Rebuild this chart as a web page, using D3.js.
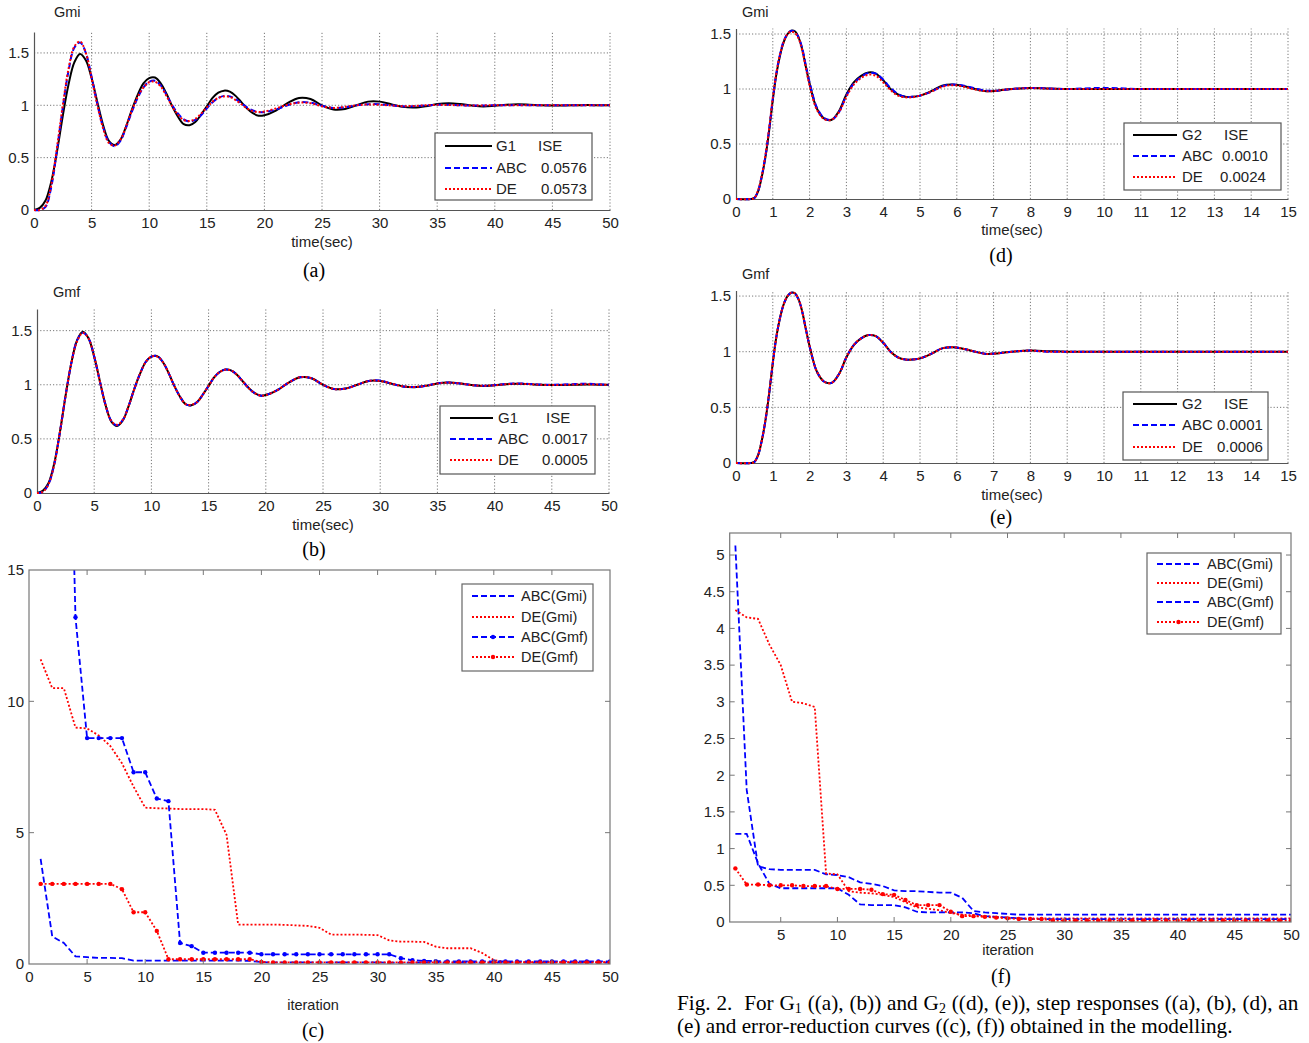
<!DOCTYPE html>
<html><head><meta charset="utf-8">
<script src="https://cdn.jsdelivr.net/npm/d3@7"></script>
<style>
body{margin:0;background:#fff}
svg{display:block}
</style>
</head><body>
<svg id="chart" width="1309" height="1043"></svg>
<script>
// ---------------- DATA ----------------
// G1 step responses (time grid)
const T1 = [0,0.5,1,1.5,2,2.5,3,3.5,4,4.5,5,5.5,6,6.5,7,7.5,8,8.5,9,9.5,10,10.5,11,11.5,12,12.5,13,13.5,14,14.5,15,15.5,16,16.5,17,17.5,18,18.5,19,19.5,20,21,22,23,24,25,26,27,28,29,30,31,32,33,34,35,36,37,38,39,40,41,42,43,44,45,46,47,48,49,50];
const G1 = [0,0.02,0.09,0.27,0.56,0.9,1.2,1.41,1.49,1.43,1.26,1.03,0.81,0.66,0.62,0.67,0.8,0.96,1.1,1.21,1.26,1.265,1.21,1.11,0.99,0.89,0.82,0.81,0.84,0.91,0.99,1.07,1.12,1.14,1.13,1.09,1.03,0.97,0.925,0.9,0.905,
  0.95,1.02,1.07,1.06,1.0,0.96,0.965,1.0,1.035,1.035,1.01,0.985,0.978,0.99,1.012,1.02,1.012,0.997,0.988,0.995,1.005,1.01,1.006,1.0,0.998,0.998,1.0,1.002,1.001,1.0];
const ABC_a = [0,0,0.03,0.22,0.58,0.98,1.33,1.55,1.6,1.5,1.27,1.01,0.79,0.65,0.61,0.66,0.79,0.94,1.07,1.17,1.225,1.235,1.19,1.1,1.0,0.92,0.865,0.845,0.86,0.905,0.97,1.03,1.07,1.09,1.085,1.06,1.02,0.98,0.95,0.935,0.935,
  0.96,1.0,1.03,1.025,0.995,0.975,0.98,1.0,1.01,1.01,1.0,0.99,0.99,0.998,1.005,1.005,1.0,0.998,0.998,1.0,1.0,1.002,1.0,1.0,1.0,1.0,1.0,1.0,1.0,1.0];
const DE_a = [0,0,0.04,0.24,0.6,1.0,1.35,1.56,1.61,1.5,1.26,1.0,0.78,0.64,0.615,0.67,0.8,0.95,1.08,1.17,1.22,1.225,1.18,1.09,0.99,0.91,0.86,0.85,0.87,0.92,0.98,1.035,1.07,1.085,1.08,1.05,1.01,0.97,0.945,0.935,0.94,
  0.97,1.005,1.025,1.02,0.99,0.975,0.985,1.0,1.008,1.005,0.998,0.992,0.994,1.0,1.004,1.003,1.0,0.998,0.999,1.0,1.0,1.0,1.0,1.0,1.0,1.0,1.0,1.0,1.0,1.0];
const ABC_b = [0,0.01,0.08,0.26,0.56,0.9,1.2,1.41,1.48,1.43,1.26,1.03,0.81,0.665,0.625,0.675,0.8,0.96,1.1,1.21,1.26,1.265,1.21,1.11,0.99,0.89,0.82,0.81,0.84,0.91,0.99,1.07,1.12,1.14,1.13,1.09,1.03,0.97,0.925,0.9,0.905,
  0.95,1.02,1.07,1.06,1.0,0.96,0.965,1.0,1.035,1.04,1.01,0.985,0.98,0.99,1.015,1.02,1.012,0.997,0.99,0.997,1.007,1.012,1.008,1.002,1.0,1.003,1.006,1.01,1.004,1.0];
const DE_b = [0,0.01,0.08,0.26,0.56,0.9,1.2,1.4,1.48,1.43,1.26,1.03,0.81,0.665,0.63,0.675,0.8,0.96,1.1,1.21,1.26,1.26,1.21,1.11,0.99,0.89,0.82,0.815,0.84,0.91,0.99,1.07,1.12,1.14,1.13,1.09,1.03,0.97,0.925,0.9,0.905,
  0.95,1.02,1.07,1.06,1.0,0.96,0.965,1.0,1.035,1.035,1.01,0.985,0.98,0.99,1.012,1.02,1.012,0.997,0.99,0.995,1.005,1.01,1.006,1.0,0.998,1.0,1.002,1.004,1.002,1.0];

// G2 step responses
const T2 = [0,0.4,0.5,0.6,0.7,0.8,0.9,1.0,1.1,1.2,1.3,1.4,1.5,1.6,1.7,1.8,1.9,2.0,2.2,2.4,2.6,2.8,3.0,3.2,3.4,3.6,3.8,4.0,4.2,4.4,4.6,4.8,5.0,5.3,5.6,5.9,6.2,6.5,6.8,7.1,7.5,8.0,8.5,9,10,11,12,13,14,15];
const G2 = [0,0,0.01,0.07,0.2,0.38,0.62,0.9,1.14,1.31,1.43,1.5,1.53,1.525,1.47,1.36,1.2,1.05,0.82,0.73,0.72,0.8,0.95,1.06,1.12,1.15,1.14,1.08,1.0,0.95,0.93,0.93,0.94,0.98,1.03,1.04,1.025,1.0,0.98,0.985,1.0,1.01,1.005,1.0,1.0,1.0,1.0,1.0,1.0,1.0];
const ABC_d = [0,0,0.01,0.07,0.21,0.39,0.63,0.91,1.15,1.32,1.44,1.5,1.53,1.52,1.47,1.37,1.21,1.06,0.83,0.735,0.72,0.79,0.94,1.05,1.11,1.145,1.14,1.085,1.01,0.955,0.93,0.93,0.94,0.975,1.025,1.04,1.03,1.005,0.985,0.985,1.0,1.01,1.005,1.0,1.01,1.0,1.0,1.0,1.0,1.0];
const DE_d = [0,0,0.01,0.08,0.21,0.4,0.64,0.92,1.15,1.32,1.43,1.5,1.52,1.51,1.46,1.35,1.19,1.03,0.81,0.725,0.72,0.79,0.93,1.04,1.1,1.13,1.12,1.06,0.99,0.94,0.925,0.925,0.94,0.975,1.02,1.035,1.02,0.995,0.98,0.985,1.0,1.008,1.003,1.0,1.0,1.0,1.0,1.0,1.0,1.0];
const ABC_e = [0,0,0.01,0.07,0.2,0.38,0.62,0.9,1.14,1.31,1.43,1.5,1.53,1.52,1.47,1.36,1.2,1.05,0.82,0.73,0.72,0.8,0.95,1.06,1.12,1.15,1.14,1.08,1.0,0.95,0.93,0.93,0.94,0.98,1.03,1.04,1.025,1.0,0.98,0.985,1.0,1.01,1.0,1.0,1.0,1.0,1.0,1.0,1.0,1.0];
const DE_e = [0,0,0.01,0.07,0.2,0.39,0.63,0.9,1.14,1.31,1.43,1.5,1.53,1.525,1.47,1.36,1.2,1.05,0.82,0.73,0.72,0.8,0.95,1.06,1.12,1.15,1.14,1.08,1.0,0.95,0.93,0.93,0.94,0.98,1.03,1.04,1.025,1.0,0.98,0.985,1.0,1.01,1.0,1.0,1.0,1.0,1.0,1.0,1.0,1.0];

// legend texts
const LEG_A = [["G1","ISE"],["ABC","0.0576"],["DE","0.0573"]];
const LEG_B = [["G1","ISE"],["ABC","0.0017"],["DE","0.0005"]];
const LEG_D = [["G2","ISE"],["ABC","0.0010"],["DE","0.0024"]];
const LEG_E = [["G2","ISE"],["ABC","0.0001"],["DE","0.0006"]];

// error-reduction curves, iterations 1..50
const ITER = d3.range(1, 51);
const ABC_Gmi_c = [4.0,1.05,0.8,0.29,0.26,0.23,0.23,0.22,0.13,0.13,0.13,0.13,0.13,0.13,0.13,0.13,0.13,0.13,0.12,0.07,0.06,0.06,0.06,0.06,0.06,0.06,0.06,0.06,0.06,0.06,0.05,0.05,0.05,0.05,0.05,0.05,0.05,0.05,0.05,0.05,0.05,0.05,0.05,0.05,0.05,0.05,0.05,0.05,0.05,0.05];
const DE_Gmi_c = [11.6,10.5,10.5,9.0,8.97,8.7,8.3,7.64,6.75,5.95,5.93,5.92,5.9,5.9,5.9,5.87,4.92,1.5,1.5,1.5,1.5,1.49,1.47,1.45,1.38,1.12,1.12,1.12,1.11,1.1,0.9,0.85,0.85,0.84,0.66,0.6,0.6,0.6,0.42,0.15,0.08,0.07,0.07,0.07,0.07,0.07,0.07,0.07,0.07,0.07];
const ABC_Gmf_c = [40,35,31,13.2,8.6,8.6,8.6,8.6,7.3,7.3,6.3,6.2,0.8,0.68,0.43,0.43,0.43,0.43,0.43,0.37,0.37,0.37,0.37,0.37,0.37,0.37,0.37,0.37,0.37,0.37,0.37,0.22,0.14,0.12,0.11,0.1,0.1,0.1,0.1,0.1,0.1,0.1,0.1,0.1,0.1,0.1,0.1,0.1,0.1,0.1];
const DE_Gmf_c = [3.05,3.05,3.05,3.05,3.05,3.05,3.05,2.85,1.97,1.97,1.26,0.18,0.18,0.18,0.18,0.18,0.18,0.18,0.18,0.08,0.06,0.06,0.06,0.06,0.06,0.06,0.06,0.06,0.06,0.06,0.06,0.06,0.06,0.06,0.06,0.06,0.06,0.06,0.06,0.06,0.06,0.06,0.06,0.06,0.06,0.06,0.06,0.06,0.06,0.06];

const ABC_Gmi_f = [5.13,1.8,0.76,0.72,0.71,0.71,0.71,0.71,0.65,0.64,0.61,0.54,0.52,0.49,0.43,0.42,0.42,0.41,0.4,0.4,0.33,0.15,0.13,0.12,0.11,0.1,0.1,0.1,0.1,0.1,0.1,0.1,0.1,0.1,0.1,0.1,0.1,0.1,0.1,0.1,0.1,0.1,0.1,0.1,0.1,0.1,0.1,0.1,0.1,0.1];
const DE_Gmi_f = [4.25,4.15,4.13,3.78,3.5,3.0,2.98,2.93,0.66,0.65,0.42,0.4,0.39,0.37,0.34,0.27,0.2,0.18,0.16,0.12,0.1,0.09,0.08,0.07,0.06,0.05,0.05,0.05,0.05,0.05,0.05,0.05,0.05,0.05,0.05,0.05,0.05,0.05,0.05,0.05,0.05,0.05,0.05,0.05,0.05,0.05,0.05,0.05,0.05,0.05];
const ABC_Gmf_f = [1.2,1.2,0.8,0.52,0.46,0.46,0.46,0.46,0.46,0.46,0.37,0.24,0.23,0.23,0.23,0.2,0.14,0.13,0.13,0.13,0.13,0.12,0.08,0.07,0.06,0.05,0.04,0.04,0.04,0.04,0.04,0.04,0.04,0.04,0.04,0.04,0.04,0.04,0.04,0.04,0.04,0.04,0.04,0.04,0.04,0.04,0.04,0.04,0.04,0.04];
const DE_Gmf_f = [0.73,0.51,0.51,0.5,0.5,0.5,0.49,0.49,0.49,0.45,0.45,0.45,0.44,0.38,0.37,0.3,0.23,0.23,0.23,0.14,0.08,0.08,0.07,0.06,0.05,0.04,0.04,0.04,0.02,0.02,0.02,0.02,0.02,0.02,0.02,0.02,0.02,0.02,0.02,0.02,0.02,0.02,0.02,0.02,0.02,0.02,0.02,0.02,0.02,0.02];
const ITER_LEGEND = ["ABC(Gmi)","DE(Gmi)","ABC(Gmf)","DE(Gmf)"];

const TICKS_50 = [0,5,10,15,20,25,30,35,40,45,50];
const TICKS_15 = [0,1,2,3,4,5,6,7,8,9,10,11,12,13,14,15];
const TICKS_Y = [0,0.5,1,1.5];

// ---------------- DRAWING ----------------
const svg = d3.select("#chart");
const SANS = '"Liberation Sans", Arial, Helvetica, sans-serif';
const SERIF = '"Liberation Serif", "Times New Roman", Times, serif';
const STY = {
  G:   {stroke:"#000000", dash:null,  width:2},
  ABC: {stroke:"#0000ff", dash:"6,3", width:2},
  DE:  {stroke:"#ff0000", dash:"2,2", width:2}
};
const fmt = d3.format("~g");

function txt(x, y, s, opt = {}) {
  return svg.append("text").attr("x", x).attr("y", y).text(s)
    .attr("font-family", opt.family || SANS).attr("font-size", opt.size || 15)
    .attr("fill", opt.fill || "#222").attr("text-anchor", opt.anchor || "start");
}

function styleAxis(a) {
  a.select(".domain").attr("stroke", "#555").attr("stroke-width", 1.2);
  a.selectAll(".tick line").remove();
  a.selectAll("text").attr("font-family", SANS).attr("font-size", 15).attr("fill", "#222");
}

function stepPanel(p) {
  const x = d3.scaleLinear().domain([0, p.xmax]).range([p.L, p.R]);
  const y = d3.scaleLinear().domain([0, p.ymax]).range([p.B, p.T]);
  const g = svg.append("g");
  const cid = "clip_" + p.id;
  svg.append("clipPath").attr("id", cid).append("rect")
    .attr("x", p.L).attr("y", p.T - 2).attr("width", p.R - p.L + 2).attr("height", p.B - p.T + 4);
  g.append("g").selectAll("line").data(p.xticks.slice(1)).join("line")
    .attr("x1", d => x(d)).attr("x2", d => x(d)).attr("y1", p.B).attr("y2", p.T)
    .attr("stroke", "#777").attr("stroke-width", 1).attr("stroke-dasharray", "1.2,2");
  g.append("g").selectAll("line").data(p.yticks.slice(1)).join("line")
    .attr("x1", p.L).attr("x2", p.R).attr("y1", d => y(d)).attr("y2", d => y(d))
    .attr("stroke", "#777").attr("stroke-width", 1).attr("stroke-dasharray", "1.2,2");
  const ax = g.append("g").attr("transform", `translate(0,${p.B})`)
    .call(d3.axisBottom(x).tickValues(p.xticks).tickSizeInner(0).tickSizeOuter(0).tickPadding(7).tickFormat(fmt));
  const ay = g.append("g").attr("transform", `translate(${p.L},0)`)
    .call(d3.axisLeft(y).tickValues(p.yticks).tickSizeInner(0).tickSizeOuter(0).tickPadding(5).tickFormat(fmt));
  styleAxis(ax); styleAxis(ay);

  const line = d3.line().x(d => x(d[0])).y(d => y(d[1])).curve(d3.curveCatmullRom.alpha(0.5));
  const plot = g.append("g").attr("clip-path", `url(#${cid})`);
  p.series.forEach(s => {
    const st = STY[s.key];
    plot.append("path").datum(p.t.map((t, i) => [t, s.values[i]]))
      .attr("d", line).attr("fill", "none").attr("stroke", st.stroke)
      .attr("stroke-width", st.width).attr("stroke-dasharray", st.dash)
      .attr("stroke-linejoin", "round");
  });

  // legend
  const L = p.legend;
  g.append("rect").attr("x", L.x).attr("y", L.y).attr("width", L.w).attr("height", L.h)
    .attr("fill", "#fff").attr("stroke", "#555").attr("stroke-width", 1.2);
  ["G", "ABC", "DE"].forEach((k, i) => {
    const st = STY[k];
    const yy = L.rows[i];
    g.append("line").attr("x1", L.s1).attr("x2", L.s2).attr("y1", yy).attr("y2", yy)
      .attr("stroke", st.stroke).attr("stroke-width", st.width).attr("stroke-dasharray", st.dash);
    txt(L.t1, yy + 5, p.legendText[i][0]);
    txt(L.t2[i], yy + 5, p.legendText[i][1]);
  });

  txt(p.titleX, p.titleY, p.title, {size: 14.5});
  txt((p.L + p.R) / 2, p.xlabY, "time(sec)", {anchor: "middle", size: 15});
  txt(p.capX, p.capY, p.cap, {family: SERIF, size: 20, anchor: "middle", fill: "#000"});
}

function iterPanel(p) {
  const x = d3.scaleLinear().domain([p.xmin, 50]).range([p.L, p.R]);
  const y = d3.scaleLinear().domain([0, p.ymax]).range([p.B, p.T]);
  const g = svg.append("g");
  const cid = "clip_" + p.id;
  svg.append("clipPath").attr("id", cid).append("rect")
    .attr("x", p.L).attr("y", p.T).attr("width", p.R - p.L).attr("height", p.B - p.T);
  const plot = g.append("g").attr("clip-path", `url(#${cid})`);
  const line = d3.line().x(d => x(d[0])).y(d => y(d[1]));
  p.series.forEach(s => {
    const st = STY[s.key];
    const pts = ITER.map((it, i) => [it, s.values[i]]);
    plot.append("path").datum(pts).attr("d", line).attr("fill", "none")
      .attr("stroke", st.stroke).attr("stroke-width", 1.8).attr("stroke-dasharray", s.key === "ABC" ? "6,3" : "2,2");
    if (s.marker) {
      plot.append("g").selectAll("circle").data(pts).join("circle")
        .attr("cx", d => x(d[0])).attr("cy", d => y(d[1])).attr("r", 2.2).attr("fill", st.stroke);
    }
  });
  // box
  g.append("rect").attr("x", p.L).attr("y", p.T).attr("width", p.R - p.L).attr("height", p.B - p.T)
    .attr("fill", "none").attr("stroke", "#777").attr("stroke-width", 1.2);
  const inX = p.xticks.filter(v => x(v) > p.L + 1 && x(v) < p.R - 1);
  const inY = p.yticks.filter(v => y(v) < p.B - 1 && y(v) > p.T + 1);
  const tk = g.append("g").attr("stroke", "#777").attr("stroke-width", 1);
  inX.forEach(v => {
    tk.append("line").attr("x1", x(v)).attr("x2", x(v)).attr("y1", p.B).attr("y2", p.B - 5);
    tk.append("line").attr("x1", x(v)).attr("x2", x(v)).attr("y1", p.T).attr("y2", p.T + 5);
  });
  inY.forEach(v => {
    tk.append("line").attr("x1", p.L).attr("x2", p.L + 5).attr("y1", y(v)).attr("y2", y(v));
    tk.append("line").attr("x1", p.R).attr("x2", p.R - 5).attr("y1", y(v)).attr("y2", y(v));
  });
  const ax = g.append("g").attr("transform", `translate(0,${p.B})`)
    .call(d3.axisBottom(x).tickValues(p.xticks).tickSizeInner(0).tickSizeOuter(0).tickPadding(7).tickFormat(fmt));
  const ay = g.append("g").attr("transform", `translate(${p.L},0)`)
    .call(d3.axisLeft(y).tickValues(p.yticks).tickSizeInner(0).tickSizeOuter(0).tickPadding(5).tickFormat(fmt));
  [ax, ay].forEach(a => { a.select(".domain").remove(); a.selectAll("text").attr("font-family", SANS).attr("font-size", 15).attr("fill", "#222"); });

  // legend
  const L = p.legend;
  g.append("rect").attr("x", L.x).attr("y", L.y).attr("width", L.w).attr("height", L.h)
    .attr("fill", "#fff").attr("stroke", "#666").attr("stroke-width", 1.2);
  p.series.forEach((s, i) => {
    const st = STY[s.key];
    const yy = L.rows[i];
    g.append("line").attr("x1", L.s1).attr("x2", L.s2).attr("y1", yy).attr("y2", yy)
      .attr("stroke", st.stroke).attr("stroke-width", 1.8).attr("stroke-dasharray", s.key === "ABC" ? "6,3" : "2,2");
    if (s.marker) {
      g.append("circle").attr("cx", (L.s1 + L.s2) / 2).attr("cy", yy).attr("r", 2.2).attr("fill", st.stroke);
    }
    txt(L.t, yy + 5, ITER_LEGEND[i], {size: 14.5});
  });
  txt(p.xlabX, p.xlabY, "iteration", {anchor: "middle", size: 14.5});
  txt(p.capX, p.capY, p.cap, {family: SERIF, size: 20, anchor: "middle", fill: "#000"});
}

// (a)
stepPanel({id: "a", L: 34, R: 610, B: 210, T: 32, xmax: 50, ymax: 1.7, xticks: TICKS_50, yticks: TICKS_Y, t: T1,
  series: [{key: "G", values: G1}, {key: "ABC", values: ABC_a}, {key: "DE", values: DE_a}],
  legend: {x: 435, y: 133, w: 157, h: 67, rows: [146, 168, 189], s1: 445, s2: 492, t1: 496, t2: [538, 541, 541]},
  legendText: LEG_A, title: "Gmi", titleX: 54, titleY: 17, xlabY: 247, cap: "(a)", capX: 314, capY: 277});
// (b)
stepPanel({id: "b", L: 37, R: 609, B: 493, T: 309, xmax: 50, ymax: 1.7, xticks: TICKS_50, yticks: TICKS_Y, t: T1,
  series: [{key: "G", values: G1}, {key: "ABC", values: ABC_b}, {key: "DE", values: DE_b}],
  legend: {x: 440, y: 406, w: 155, h: 68, rows: [418, 439, 460], s1: 450, s2: 493, t1: 498, t2: [546, 542, 542]},
  legendText: LEG_B, title: "Gmf", titleX: 53, titleY: 297, xlabY: 530, cap: "(b)", capX: 314, capY: 556});
// (d)
stepPanel({id: "d", L: 736, R: 1288, B: 199, T: 28.5, xmax: 15, ymax: 1.55, xticks: TICKS_15, yticks: TICKS_Y, t: T2,
  series: [{key: "G", values: G2}, {key: "ABC", values: ABC_d}, {key: "DE", values: DE_d}],
  legend: {x: 1124, y: 123, w: 157, h: 67, rows: [135, 156, 177], s1: 1133, s2: 1177, t1: 1182, t2: [1224, 1222, 1220]},
  legendText: LEG_D, title: "Gmi", titleX: 742, titleY: 17, xlabY: 235, cap: "(d)", capX: 1001, capY: 262});
// (e)
stepPanel({id: "e", L: 736, R: 1288, B: 463, T: 290.5, xmax: 15, ymax: 1.55, xticks: TICKS_15, yticks: TICKS_Y, t: T2,
  series: [{key: "G", values: G2}, {key: "ABC", values: ABC_e}, {key: "DE", values: DE_e}],
  legend: {x: 1123, y: 392, w: 145, h: 68, rows: [404, 425, 447], s1: 1133, s2: 1177, t1: 1182, t2: [1224, 1217, 1217]},
  legendText: LEG_E, title: "Gmf", titleX: 742, titleY: 279, xlabY: 500, cap: "(e)", capX: 1001, capY: 524});
// (c)
iterPanel({id: "c", L: 29, R: 610, B: 964, T: 570, xmin: 0, ymax: 15, xticks: TICKS_50, yticks: [0, 5, 10, 15],
  series: [{key: "ABC", values: ABC_Gmi_c}, {key: "DE", values: DE_Gmi_c}, {key: "ABC", values: ABC_Gmf_c, marker: true}, {key: "DE", values: DE_Gmf_c, marker: true}],
  legend: {x: 462, y: 584, w: 131, h: 87, rows: [596, 617, 637, 657], s1: 472, s2: 514, t: 521},
  xlabX: 313, xlabY: 1010, cap: "(c)", capX: 313, capY: 1037});
// (f)
iterPanel({id: "f", L: 729.7, R: 1291, B: 922, T: 533, xmin: 0.5, ymax: 5.3, xticks: [5,10,15,20,25,30,35,40,45,50], yticks: [0,0.5,1,1.5,2,2.5,3,3.5,4,4.5,5],
  series: [{key: "ABC", values: ABC_Gmi_f}, {key: "DE", values: DE_Gmi_f}, {key: "ABC", values: ABC_Gmf_f}, {key: "DE", values: DE_Gmf_f, marker: true}],
  legend: {x: 1147, y: 553, w: 134, h: 81, rows: [564, 583, 602, 622], s1: 1157, s2: 1200, t: 1207},
  xlabX: 1008, xlabY: 955, cap: "(f)", capX: 1001, capY: 983});

// figure caption (first line is cut at the page edge in the source, ending in "an")
const CAP_SIZE = 21.2;
const cap1 = svg.append("text").attr("x", 677).attr("y", 1010).attr("font-family", SERIF).attr("font-size", CAP_SIZE)
  .attr("fill", "#000").attr("word-spacing", 0.6).style("white-space", "pre");
cap1.append("tspan").text("Fig. 2.  For G");
cap1.append("tspan").attr("font-size", 14).attr("dy", 3).text("1");
cap1.append("tspan").attr("dy", -3).text(" ((a), (b)) and G");
cap1.append("tspan").attr("font-size", 14).attr("dy", 3).text("2");
cap1.append("tspan").attr("dy", -3).text(" ((d), (e)), step responses ((a), (b), (d), an");
svg.append("text").attr("x", 677).attr("y", 1033).attr("font-family", SERIF).attr("font-size", CAP_SIZE).attr("fill", "#000")
  .text("(e) and error-reduction curves ((c), (f)) obtained in the modelling.");
</script>
</body></html>
